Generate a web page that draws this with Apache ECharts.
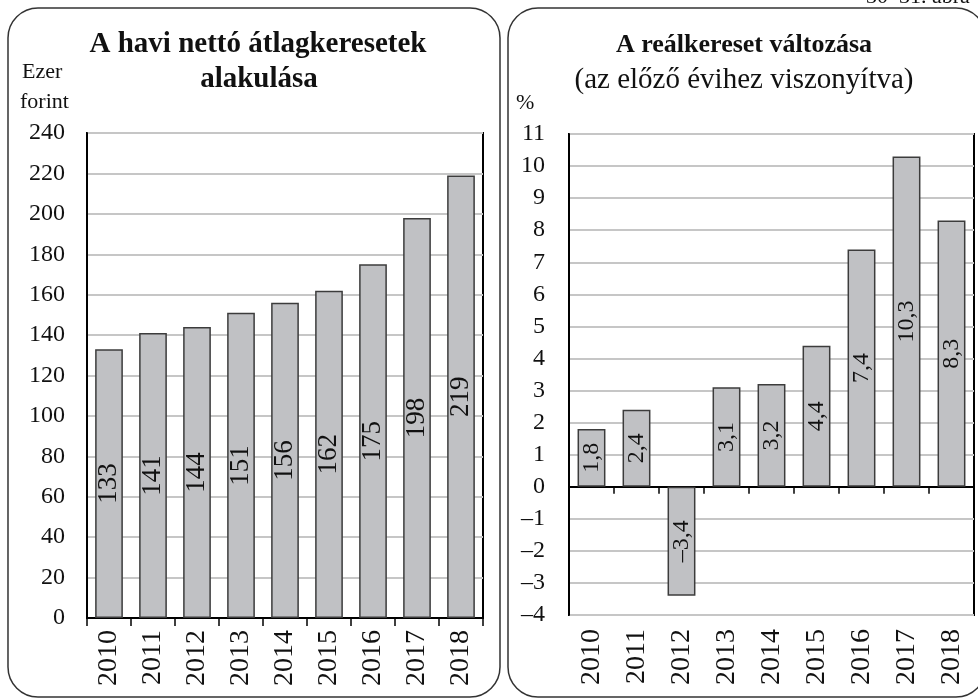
<!DOCTYPE html>
<html>
<head>
<meta charset="utf-8">
<script src="https://cdn.jsdelivr.net/npm/echarts@6/dist/echarts.min.js"></script>
<style>
  html, body { margin: 0; padding: 0; background: #fff; }
  #chart { width: 978px; height: 699px; }
</style>
</head>
<body>
<div id="chart"></div>
<script>
// adatok
var years = ['2010', '2011', '2012', '2013', '2014', '2015', '2016', '2017', '2018'];
var netWage = [133, 141, 144, 151, 156, 162, 175, 198, 219];   // ezer forint
var realChange = [1.8, 2.4, -3.4, 3.1, 3.2, 4.4, 7.4, 10.3, 8.3]; // %

var FONT = '"Liberation Serif", "DejaVu Serif", serif';
var barFill = '#c0c1c4';
var barLine = '#3c3c3c';

// 1,8 formátum, negatív előjel gondolatjellel
function hu(v) {
    var s = String(v).replace('.', ',');
    return s.replace('-', '\u2013');
}

var myChart = echarts.init(document.getElementById('chart'));

var option = {
    animation: false,
    textStyle: { fontFamily: FONT, color: '#111' },
    graphic: [
        // keretek
        { type: 'rect', shape: { x: 8, y: 8, width: 492, height: 689, r: 30 },
          style: { fill: 'none', stroke: '#333', lineWidth: 1.5 } },
        { type: 'rect', shape: { x: 508, y: 8, width: 478, height: 689, r: 30 },
          style: { fill: 'none', stroke: '#333', lineWidth: 1.5 } },
        // ábraszám (levágva a kép tetején)
        { type: 'text', x: 866, y: -14, style: { text: '30\u201331. ábra', font: '22px ' + FONT, fill: '#111' } },
        // bal cím
        { type: 'text', x: 258, y: 45, style: { text: 'A havi nettó átlagkeresetek', font: 'bold 29px ' + FONT,
          fill: '#111', align: 'center', verticalAlign: 'middle' } },
        { type: 'text', x: 259, y: 80, style: { text: 'alakulása', font: 'bold 29px ' + FONT,
          fill: '#111', align: 'center', verticalAlign: 'middle' } },
        { type: 'text', x: 22, y: 72, style: { text: 'Ezer', font: '22px ' + FONT, fill: '#111', verticalAlign: 'middle' } },
        { type: 'text', x: 20, y: 102, style: { text: 'forint', font: '22px ' + FONT, fill: '#111', verticalAlign: 'middle' } },
        // jobb cím
        { type: 'text', x: 744, y: 45, style: { text: 'A reálkereset változása', font: 'bold 26px ' + FONT,
          fill: '#111', align: 'center', verticalAlign: 'middle' } },
        { type: 'text', x: 744, y: 80, style: { text: '(az előző évihez viszonyítva)', font: '29px ' + FONT,
          fill: '#111', align: 'center', verticalAlign: 'middle' } },
        { type: 'text', x: 516, y: 103, style: { text: '%', font: '22px ' + FONT, fill: '#111', verticalAlign: 'middle' } }
    ],
    grid: [
        { left: 87, top: 133, width: 396, height: 485, show: true, borderColor: '#000', borderWidth: 2 },
        { left: 569, top: 134, width: 405, height: 481, show: true, borderColor: '#000', borderWidth: 2 }
    ],
    xAxis: [
        {
            type: 'category', gridIndex: 0, data: years,
            axisLine: { lineStyle: { color: '#000', width: 2 } },
            axisTick: { show: true, length: 8, lineStyle: { color: '#000', width: 1.5 } },
            axisLabel: { rotate: 90, margin: 12, fontSize: 28, color: '#111', fontFamily: FONT }
        },
        {
            type: 'category', gridIndex: 1, data: years,
            axisLine: { show: false, onZero: false },
            axisTick: { show: false },
            axisLabel: { rotate: 90, margin: 14, fontSize: 28, color: '#111', fontFamily: FONT }
        },
        {
            // nulla vonal a tickekkel
            type: 'category', gridIndex: 1, data: years, position: 'bottom',
            axisLine: { show: true, onZero: true, lineStyle: { color: '#000', width: 2 } },
            axisTick: { show: true, length: 7, lineStyle: { color: '#000', width: 1.5 } },
            axisLabel: { show: false }
        }
    ],
    yAxis: [
        {
            type: 'value', gridIndex: 0, min: 0, max: 240, interval: 20,
            axisLine: { show: true, lineStyle: { color: '#000', width: 2 } },
            axisTick: { show: false },
            splitLine: { lineStyle: { color: '#c6c6c6', width: 2 } },
            axisLabel: { margin: 22, fontSize: 24, color: '#111', fontFamily: FONT }
        },
        {
            type: 'value', gridIndex: 1, min: -4, max: 11, interval: 1,
            axisLine: { show: true, lineStyle: { color: '#000', width: 2 } },
            axisTick: { show: false },
            splitLine: { lineStyle: { color: '#c6c6c6', width: 2 } },
            axisLabel: { margin: 24, fontSize: 24, color: '#111', fontFamily: FONT, formatter: hu }
        }
    ],
    series: [
        {
            name: 'Nettó átlagkereset', type: 'bar', xAxisIndex: 0, yAxisIndex: 0,
            data: netWage, barCategoryGap: '37%',
            itemStyle: { color: barFill, borderColor: barLine, borderWidth: 1.5 },
            label: { show: true, position: 'inside', rotate: 90, fontSize: 27, color: '#111', fontFamily: FONT }
        },
        {
            name: 'Reálkereset változása', type: 'bar', xAxisIndex: 1, yAxisIndex: 1,
            data: realChange, barCategoryGap: '38%',
            itemStyle: { color: barFill, borderColor: barLine, borderWidth: 1.5 },
            label: { show: true, position: 'inside', rotate: 90, fontSize: 24, color: '#111', fontFamily: FONT,
                     formatter: function (p) { return hu(p.value); } }
        }
    ]
};

myChart.setOption(option);
</script>
</body>
</html>
